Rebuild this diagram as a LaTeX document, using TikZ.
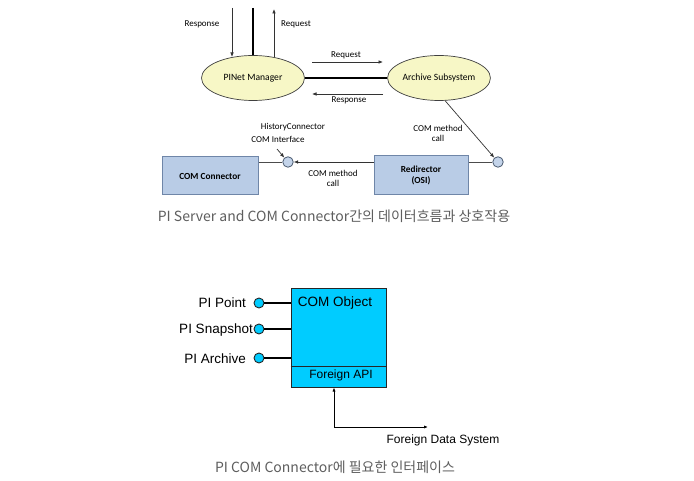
\documentclass[tikz,border=0pt]{standalone}
\usepackage{fontspec}
\setmainfont{Carlito}
\newfontfamily\arialf{Liberation Sans}
\newfontfamily\krf{Noto Sans CJK KR}
\usetikzlibrary{shapes.geometric,arrows.meta}
\definecolor{ellfill}{HTML}{F7F7C6}
\definecolor{boxfill}{HTML}{B9CCE6}
\definecolor{boxline}{HTML}{6F86A8}
\definecolor{pinfill}{HTML}{C4D4EA}
\definecolor{pinline}{HTML}{4A5A70}
\definecolor{cyanfill}{HTML}{00CCFF}
\definecolor{capgray}{HTML}{5E5E5E}
\tikzset{
  ell/.style={ellipse, draw=black!75, fill=ellfill, line width=0.7pt, inner sep=0pt, font=\fontsize{9.6}{11}\selectfont},
  bbox/.style={rectangle, draw=boxline, fill=boxfill, line width=1pt, inner sep=0pt, font=\fontsize{9.3}{11}\selectfont\bfseries, align=center},
  pin/.style={circle, draw=pinline, fill=pinfill, line width=0.8pt, minimum size=10.5pt, inner sep=0pt},
  lbl/.style={inner sep=0pt, font=\fontsize{9}{10}\selectfont, align=center},
  thinline/.style={line width=0.7pt, draw=black!70},
  arr/.style={-{Latex[length=4.5pt,width=3.6pt]}, line width=0.7pt, draw=black!80},
  heavy/.style={line width=2.5pt, draw=black},
  captxt/.style={inner sep=0pt, font=\krf\fontsize{14}{16}\selectfont, text=capgray},
  atxt/.style={inner sep=0pt, font=\arialf\fontsize{13.5}{15}\selectfont},
  cpin/.style={circle, draw=black!85, fill=cyanfill, line width=0.9pt, minimum size=10pt, inner sep=0pt},
  arr2/.style={-{Latex[length=4pt,width=3.2pt]}, line width=0.8pt, draw=black}
}
\begin{document}
\begin{tikzpicture}[x=1pt,y=-1pt]
\useasboundingbox (0,0) rectangle (694,481);
\fill[white] (0,0) rectangle (694,481);

% ---------- top diagram ----------
\node[ell, minimum width=103pt, minimum height=45pt] (pm) at (253,78) {PINet Manager};
\node[ell, minimum width=88pt, minimum height=45pt] (as) at (439,78) {Archive Subsystem};
\draw[heavy] (pm) -- (as);
\coordinate (t1) at (253,8);
\draw[heavy] (t1) -- (pm.north);
\coordinate (ra) at (232,8); \coordinate (rb) at (232,57);
\draw[arr] (ra) -- (rb);
\coordinate (qa) at (274,57); \coordinate (qb) at (274,9);
\draw[arr] (qa) -- (qb);
\node[lbl] (lresp) at (202,24) {Response};
\node[lbl] (lreq) at (296,24) {Request};

\coordinate (h1a) at (312,62); \coordinate (h1b) at (383,62);
\draw[arr] (h1a) -- (h1b);
\node[lbl] (lreq2) at (346,55) {Request};
\coordinate (h2a) at (383,94); \coordinate (h2b) at (312,94);
\draw[arr] (h2a) -- (h2b);
\node[lbl] (lresp2) at (349,100) {Response};

\node[bbox, minimum width=96pt, minimum height=38pt] (cc) at (210,176) {COM Connector};
\node[bbox, minimum width=94pt, minimum height=39pt] (rd) at (421,175.5) {Redirector\\(OSI)};
\node[pin] (c1) at (288,162) {};
\node[pin] (c2) at (498,162) {};
\draw[thinline] (cc.east |- c1) -- (c1);
\draw[arr] (rd.west |- c1) -- (c1);
\draw[thinline] (rd.east |- c2) -- (c2);
\draw[arr] (as.-75) -- (c2);

\node[lbl] (hc1) at (293,127) {HistoryConnector};
\node[lbl] (hc2) at (278,139) {COM Interface};
\coordinate (hcA) at (277,149);
\draw[arr] (hcA) -- (c1);
\node[lbl] (cm1) at (333,178) {COM method\\call};
\node[lbl] (cm2) at (438,133) {COM method\\call};

\node[captxt] (cap1) at (334,216) {PI Server and COM Connector간의 데이터흐름과 상호작용};

% ---------- bottom diagram ----------
\node[rectangle, draw=black!85, fill=cyanfill, line width=1pt, minimum width=95pt, minimum height=98pt, inner sep=0pt] (co) at (338.5,338) {};
\coordinate (dv) at (338.5,366);
\draw[line width=1pt, draw=black!85] (co.west |- dv) -- (co.east |- dv);
\node[atxt] (cot) at (335,303) {COM Object};
\node[atxt, font=\arialf\fontsize{12}{14}\selectfont] (fa) at (341,375) {Foreign API};

\node[cpin] (p1) at (259,303) {};
\node[cpin] (p2) at (259,329) {};
\node[cpin] (p3) at (259,358) {};
\draw[line width=1.1pt] (p1) -- (p1 -| co.west);
\draw[line width=1.6pt] (p2) -- (p2 -| co.west);
\draw[line width=1.6pt] (p3) -- (p3 -| co.west);
\node[atxt, anchor=base east] (l1) at (246,308) {PI Point};
\node[atxt, anchor=base east] (l2) at (253,334) {PI Snapshot};
\node[atxt, anchor=base east] (l3) at (246,363) {PI Archive};

\coordinate (fc) at (334,427); \coordinate (fe) at (428,427);
\draw[arr2] (fc) -- (fc |- co.south);
\draw[arr2] (fc) -- (fe);
\node[atxt, font=\arialf\fontsize{12}{14}\selectfont] (fds) at (443,440) {Foreign Data System};

\node[captxt] (cap2) at (335,467) {PI COM Connector에 필요한 인터페이스};
\end{tikzpicture}
\end{document}
